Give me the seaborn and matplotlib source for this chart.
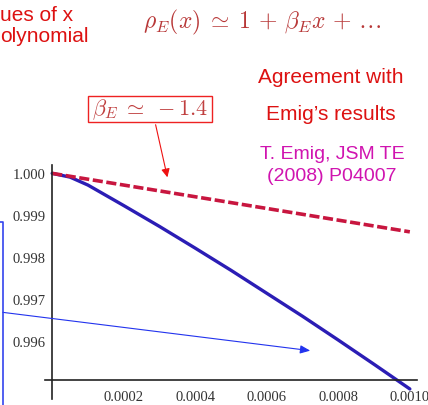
import numpy as np
import pandas as pd
import seaborn as sns
import matplotlib
matplotlib.use("Agg")
import matplotlib.pyplot as plt
from matplotlib.patches import Rectangle, FancyArrowPatch
from matplotlib.lines import Line2D
from matplotlib.ticker import MultipleLocator, FixedLocator

# ---- data ----
x_vals = [0.0, 0.00005, 0.0001, 0.0002, 0.0003, 0.0004, 0.0005, 0.0006, 0.0007, 0.0008, 0.0009, 0.0010]
rho_exact = [1.0, 0.99991, 0.99972, 0.99923, 0.99873, 0.99821, 0.99768, 0.99713, 0.99658, 0.99601, 0.99543, 0.99484]
rho_linear = [1.0, 0.99993, 0.99986, 0.99972, 0.99958, 0.99944, 0.99930, 0.99916, 0.99902, 0.99888, 0.99874, 0.99860]
x_ticks = [0.0002, 0.0004, 0.0006, 0.0008, 0.0010]
x_tick_labels = ["0.0002", "0.0004", "0.0006", "0.0008", "0.0010"]
y_ticks = [0.996, 0.997, 0.998, 0.999, 1.000]
y_tick_labels = ["0.996", "0.997", "0.998", "0.999", "1.000"]

df = pd.DataFrame({"x": x_vals, "exact": rho_exact, "linear": rho_linear})

sns.set_style("white")
plt.rcParams["mathtext.fontset"] = "cm"

W, H = 428, 406
fig = plt.figure(figsize=(W / 100, H / 100), dpi=100)
fig.patch.set_facecolor("white")

# axes rectangle in pixels
left_px, right_px, top_px, bot_px = 45, 417, 166, 400
ax = fig.add_axes([left_px / W, (H - bot_px) / H, (right_px - left_px) / W, (bot_px - top_px) / H])
ax.set_facecolor("white")

sns.lineplot(data=df, x="x", y="exact", ax=ax, color="#2b1db5", linewidth=2.4, legend=False)
sns.lineplot(data=df, x="x", y="linear", ax=ax, color="#c8163f", linewidth=2.6, legend=False)
ax.lines[-1].set_dashes([2.8, 1.0])
for ln in ax.lines:
    ln.set_solid_joinstyle("round")

ax.set_xlim(-0.00002, 0.00102)
ax.set_ylim(0.99460, 1.00020)

for s in ["top", "right"]:
    ax.spines[s].set_visible(False)
ax.spines["left"].set_position(("data", 0.0))
ax.spines["bottom"].set_position(("data", 0.99506))
for s in ["left", "bottom"]:
    ax.spines[s].set_color("#222222")
    ax.spines[s].set_linewidth(1.2)

ax.xaxis.set_major_locator(FixedLocator(x_ticks))
ax.yaxis.set_major_locator(FixedLocator(y_ticks))
ax.xaxis.set_minor_locator(MultipleLocator(0.00005))
ax.yaxis.set_minor_locator(MultipleLocator(0.0002))
ax.set_xticklabels(x_tick_labels)
ax.set_yticklabels(y_tick_labels)
ax.tick_params(axis="both", which="major", direction="in", length=5, width=1.1, color="#222222",
               labelsize=10.5, labelcolor="#333333")
ax.tick_params(axis="y", which="major", pad=5)
ax.tick_params(axis="x", which="major", pad=7)
ax.tick_params(axis="both", which="minor", direction="in", length=3, width=0.9, color="#222222")
for lab in ax.get_xticklabels() + ax.get_yticklabels():
    lab.set_family("Liberation Serif")
ax.set_xlabel("")
ax.set_ylabel("")

def fy(y):
    return H - y

# top-left cut-off slide text
fig.text(0, fy(16), "ues of x", color="#dd1111", fontsize=15, family="Liberation Sans",
         va="center", ha="left", transform=None)
fig.text(0, fy(37), "olynomial", color="#dd1111", fontsize=15, family="Liberation Sans",
         va="center", ha="left", transform=None)

# formula
fig.text(262, fy(22), r"$\rho_E(x)\;\simeq\;1\,+\,\beta_E x\,+\,\ldots$", color="#b83838", fontsize=17,
         ha="center", va="center", transform=None)

fig.text(331, fy(78), "Agreement with", color="#dd1111", fontsize=15, family="Liberation Sans",
         ha="center", va="center", transform=None)
fig.text(331, fy(115), "Emig\u2019s results", color="#dd1111", fontsize=15, family="Liberation Sans",
         ha="center", va="center", transform=None)
fig.text(332, fy(155), "T. Emig, JSM TE", color="#d014b0", fontsize=14, family="Liberation Sans",
         ha="center", va="center", transform=None)
fig.text(332, fy(177), "(2008) P04007", color="#d014b0", fontsize=14, family="Liberation Sans",
         ha="center", va="center", transform=None)

# boxed beta
fig.patches.append(Rectangle((88, fy(123)), 124, 26, transform=None, fill=False, edgecolor="#ee2222",
                             linewidth=1.0, figure=fig))
fig.text(150, fy(110), r"$\beta_E\;\simeq\;-1.4$", color="#c04040", fontsize=16, ha="center", va="center",
         transform=None)

# red arrow
fig.patches.append(FancyArrowPatch((155, fy(123)), (168, fy(181)), transform=None,
                   arrowstyle="-|>,head_length=5,head_width=2.5", color="#ee1111", linewidth=0.8,
                   mutation_scale=1, figure=fig))

# blue box edge and arrow
fig.lines.append(Line2D([0, 3, 3], [fy(223), fy(223), fy(406)], transform=None, color="#3344ee",
                        linewidth=1.2, figure=fig))
fig.patches.append(FancyArrowPatch((0, fy(313)), (313, fy(352)), transform=None,
                   arrowstyle="-|>,head_length=6,head_width=2.5", color="#2233ee", linewidth=0.8,
                   mutation_scale=1, figure=fig))

fig.savefig("out.png", dpi=100)
